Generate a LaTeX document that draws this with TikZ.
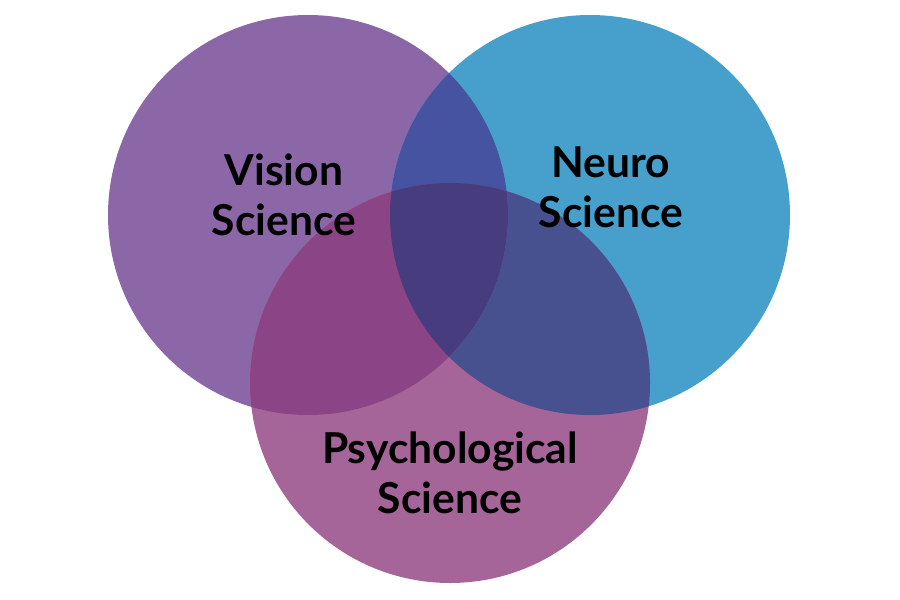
\documentclass[tikz,border=0pt]{standalone}
\usepackage{fontspec}
\setmainfont{Lato}[UprightFont=* Bold]
\begin{document}
\begin{tikzpicture}[x=1pt,y=-1pt,
  lbl/.style={align=center,font=\fontsize{42.6}{50}\selectfont,text=black,inner sep=0pt}]
\definecolor{cV}{HTML}{8C67A8}
\definecolor{cN}{HTML}{47A0CC}
\definecolor{cP}{HTML}{A66599}
\definecolor{cVN}{HTML}{4553A0}
\definecolor{cVP}{HTML}{8B4587}
\definecolor{cNP}{HTML}{48518F}
\definecolor{cVNP}{HTML}{473C7D}
\useasboundingbox (0,0) rectangle (900,600);
\coordinate (V) at (308,215);
\coordinate (N) at (590,215);
\coordinate (P) at (450,383);
\fill[cV] (V) circle (200);
\fill[cN] (N) circle (200);
\fill[cP] (P) circle (200);
\begin{scope}
  \clip (V) circle (200);
  \fill[cVN] (N) circle (200);
  \fill[cVP] (P) circle (200);
  \clip (N) circle (200);
  \fill[cVNP] (P) circle (200);
\end{scope}
\begin{scope}
  \clip (N) circle (200);
  \clip (P) circle (200);
  \fill[cNP, even odd rule] (V) circle (200) (-10,-10) rectangle (910,610);
\end{scope}
\node[lbl] (tv) at (284,195) {Vision\\Science};
\node[lbl] (tn) at (611,187) {Neuro\\Science};
\node[lbl] (tp) at (450,473) {Psychological\\Science};
\end{tikzpicture}
\end{document}
